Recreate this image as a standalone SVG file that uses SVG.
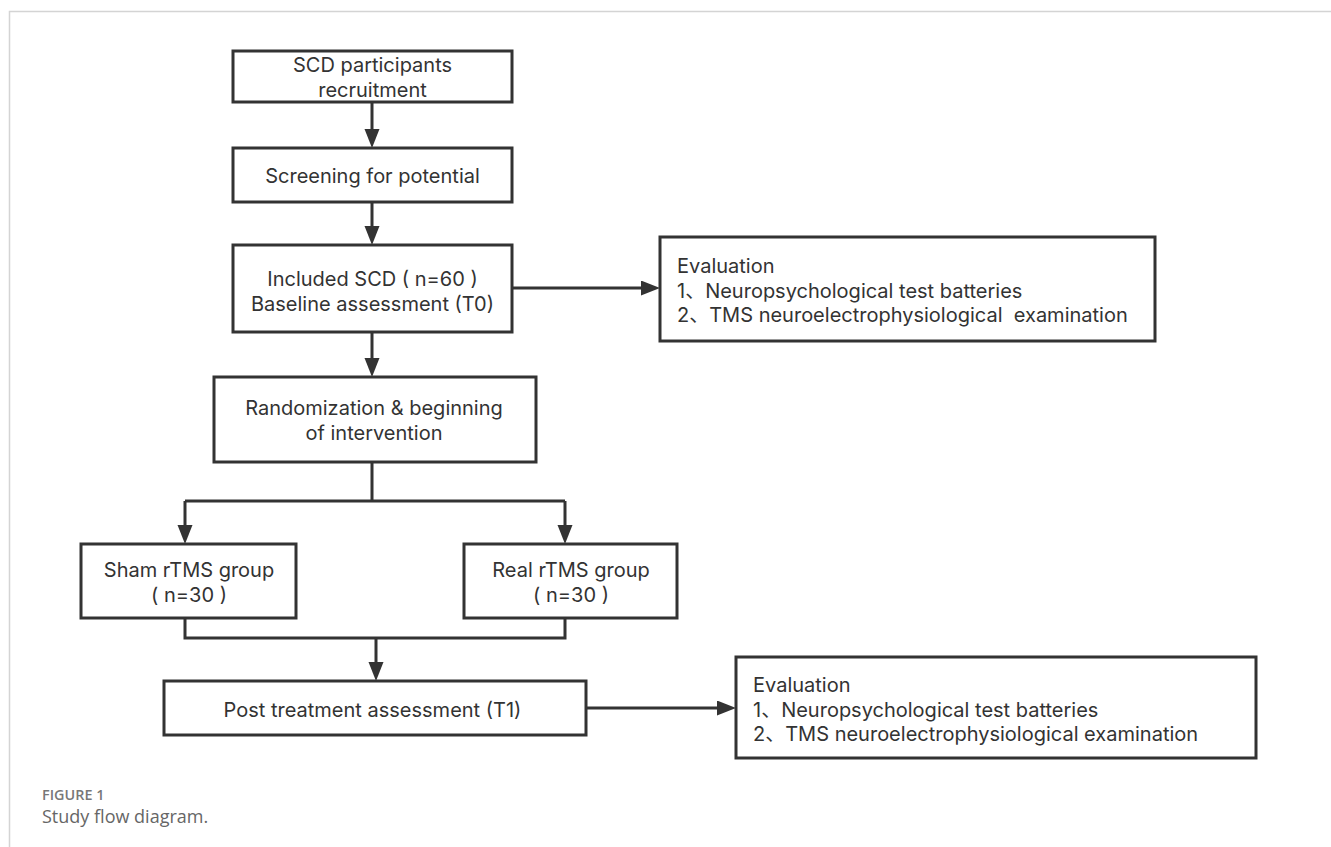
<svg xmlns="http://www.w3.org/2000/svg" width="1331" height="847" viewBox="0 0 1331 847">
<defs>
<marker id="ah" markerUnits="userSpaceOnUse" markerWidth="22" markerHeight="16" refX="8" refY="7.5" orient="auto">
<path d="M0,0 L19,7.5 L0,15 Z" fill="#333"/>
</marker>
<style>
.box{fill:#fff;stroke:#333;stroke-width:3}
.t{font-family:Inter,"Noto Sans CJK SC",sans-serif;font-size:20px;fill:#333}
.c{text-anchor:middle}
.ln{fill:none;stroke:#333;stroke-width:3}
.ar{fill:none;stroke:#333;stroke-width:3;marker-end:url(#ah)}
.cap1{font-family:"Open Sans",sans-serif;font-size:14.4px;font-weight:600;fill:#777}
.cap2{font-family:"Open Sans",sans-serif;font-size:18px;fill:#666}
</style>
</defs>
<rect width="1331" height="847" fill="#fff"/>
<path d="M9.5,847 V11.5 H1331" fill="none" stroke="#d4d4d4" stroke-width="1.5"/>

<g id="connectors">
<line class="ar" x1="372" y1="102" x2="372" y2="137"/>
<line class="ar" x1="372" y1="202" x2="372" y2="234"/>
<line class="ar" x1="372" y1="332" x2="372" y2="366"/>
<line class="ar" x1="512" y1="288" x2="649" y2="288"/>
<path class="ln" d="M372,462 V501 M185,501 H565"/>
<line class="ar" x1="185" y1="501" x2="185" y2="533"/>
<line class="ar" x1="565" y1="501" x2="565" y2="533"/>
<path class="ln" d="M185,618 V638 H565 V618"/>
<line class="ar" x1="376" y1="638" x2="376" y2="670"/>
<line class="ar" x1="586" y1="708" x2="725" y2="708"/>
</g>

<g id="n1">
<rect class="box" x="233" y="51" width="279" height="51"/>
<text class="t c" x="372.5" y="72">SCD participants</text>
<text class="t c" x="372.5" y="96.5">recruitment</text>
</g>
<g id="n2">
<rect class="box" x="233" y="148" width="279" height="54"/>
<text class="t c" x="372.5" y="183">Screening for potential</text>
</g>
<g id="n3">
<rect class="box" x="233" y="245" width="279" height="87"/>
<text class="t c" x="372.5" y="286">Included SCD ( n=60 )</text>
<text class="t c" x="372.5" y="310.5">Baseline assessment (T0)</text>
</g>
<g id="n4">
<rect class="box" x="660" y="237" width="495" height="104"/>
<text class="t" x="677" y="273">Evaluation</text>
<text class="t" x="677" y="297.5">1、Neuropsychological test batteries</text>
<text class="t" x="677" y="322" xml:space="preserve">2、TMS neuroelectrophysiological  examination</text>
</g>
<g id="n5">
<rect class="box" x="214" y="377" width="322" height="85"/>
<text class="t c" x="374" y="415">Randomization &amp; beginning</text>
<text class="t c" x="374" y="439.5">of intervention</text>
</g>
<g id="n6">
<rect class="box" x="81" y="544" width="215" height="74"/>
<text class="t c" x="189" y="577">Sham rTMS group</text>
<text class="t c" x="189" y="602">( n=30 )</text>
</g>
<g id="n7">
<rect class="box" x="464" y="544" width="213" height="74"/>
<text class="t c" x="571" y="577">Real rTMS group</text>
<text class="t c" x="571" y="602">( n=30 )</text>
</g>
<g id="n8">
<rect class="box" x="164" y="681" width="422" height="54"/>
<text class="t c" x="372.5" y="717">Post treatment assessment (T1)</text>
</g>
<g id="n9">
<rect class="box" x="736" y="657" width="520" height="101"/>
<text class="t" x="753" y="692">Evaluation</text>
<text class="t" x="753" y="716.5">1、Neuropsychological test batteries</text>
<text class="t" x="753" y="741">2、TMS neuroelectrophysiological examination</text>
</g>

<text class="cap1" x="42" y="800">FIGURE 1</text>
<text class="cap2" x="42" y="823">Study flow diagram.</text>
</svg>
